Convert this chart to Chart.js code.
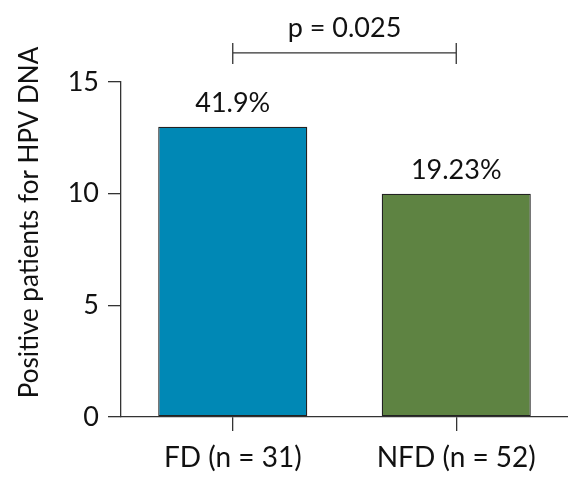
<!DOCTYPE html>
<html>
<head>
<meta charset="utf-8">
<script src="https://cdn.jsdelivr.net/npm/chart.js@4"></script>
<style>
  html, body { margin: 0; padding: 0; background: #fff; }
  #wrap { width: 568px; height: 477px; }
</style>
</head>
<body>
<div id="wrap"><canvas id="hpvChart"></canvas></div>
<script>
const categories = ['FD (n = 31)', 'NFD (n = 52)'];
const positives = [13, 10];
const percentLabels = ['41.9%', '19.23%'];
const yTicks = [0, 5, 10, 15];
const yTitle = 'Positive patients for HPV DNA';
const pValueText = 'p = 0.025';
const pBracketLevel = 16.3;

const FONT = 'Lato, sans-serif';

// percentage labels, p-value bracket and the y title (drawn by hand so it can sit a bit higher)
const annotations = {
  id: 'annotations',
  afterDatasetsDraw(chart) {
    const ctx = chart.ctx;
    const x = chart.scales.x;
    const y = chart.scales.y;
    ctx.save();
    ctx.fillStyle = '#111';
    ctx.font = '27px ' + FONT;
    ctx.textAlign = 'center';
    ctx.textBaseline = 'alphabetic';
    positives.forEach((v, i) => {
      ctx.fillText(percentLabels[i], x.getPixelForValue(i), y.getPixelForValue(v) - 15);
    });
    const x0 = x.getPixelForValue(0);
    const x1 = x.getPixelForValue(1);
    const by = y.getPixelForValue(pBracketLevel);
    ctx.strokeStyle = '#333';
    ctx.lineWidth = 1.3;
    ctx.beginPath();
    ctx.moveTo(x0, by); ctx.lineTo(x1, by);
    ctx.moveTo(x0, by - 10); ctx.lineTo(x0, by + 11);
    ctx.moveTo(x1, by - 10); ctx.lineTo(x1, by + 11);
    ctx.stroke();
    ctx.fillText(pValueText, (x0 + x1) / 2, by - 16);

    ctx.font = '26px ' + FONT;
    ctx.translate(30, (y.top + y.bottom) / 2 - 27);
    ctx.rotate(-Math.PI / 2);
    ctx.textBaseline = 'middle';
    ctx.fillText(yTitle, 0, 0);
    ctx.restore();
  }
};

new Chart(document.getElementById('hpvChart'), {
  type: 'bar',
  data: {
    labels: categories,
    datasets: [{
      data: positives,
      backgroundColor: ['#0088b5', '#5e8342'],
      borderColor: '#222',
      borderWidth: 1.3,
      borderSkipped: false,
      barPercentage: 0.667,
      categoryPercentage: 1
    }]
  },
  options: {
    responsive: true,
    maintainAspectRatio: false,
    animation: false,
    layout: { padding: { top: 82, right: 0, left: 0, bottom: 0 } },
    plugins: { legend: { display: false }, tooltip: { enabled: false } },
    scales: {
      x: {
        afterFit(scale) { scale.height = 60; },
        grid: { offset: false, drawOnChartArea: false, drawTicks: true, tickLength: 14, color: '#333', lineWidth: 1.3 },
        border: { display: true, color: '#333', width: 1.3 },
        ticks: { color: '#111', font: { family: FONT, size: 28 }, padding: 10 }
      },
      y: {
        min: 0,
        max: 15,
        afterFit(scale) { scale.width = 121; },
        afterBuildTicks(scale) { scale.ticks = yTicks.map(v => ({ value: v })); },
        grid: { drawOnChartArea: false, drawTicks: true, tickLength: 13, color: '#333', lineWidth: 1.3 },
        border: { display: true, color: '#333', width: 1.3 },
        ticks: { color: '#111', font: { family: FONT, size: 27 }, padding: 9 }
      }
    }
  },
  plugins: [annotations]
});
</script>
</body>
</html>
